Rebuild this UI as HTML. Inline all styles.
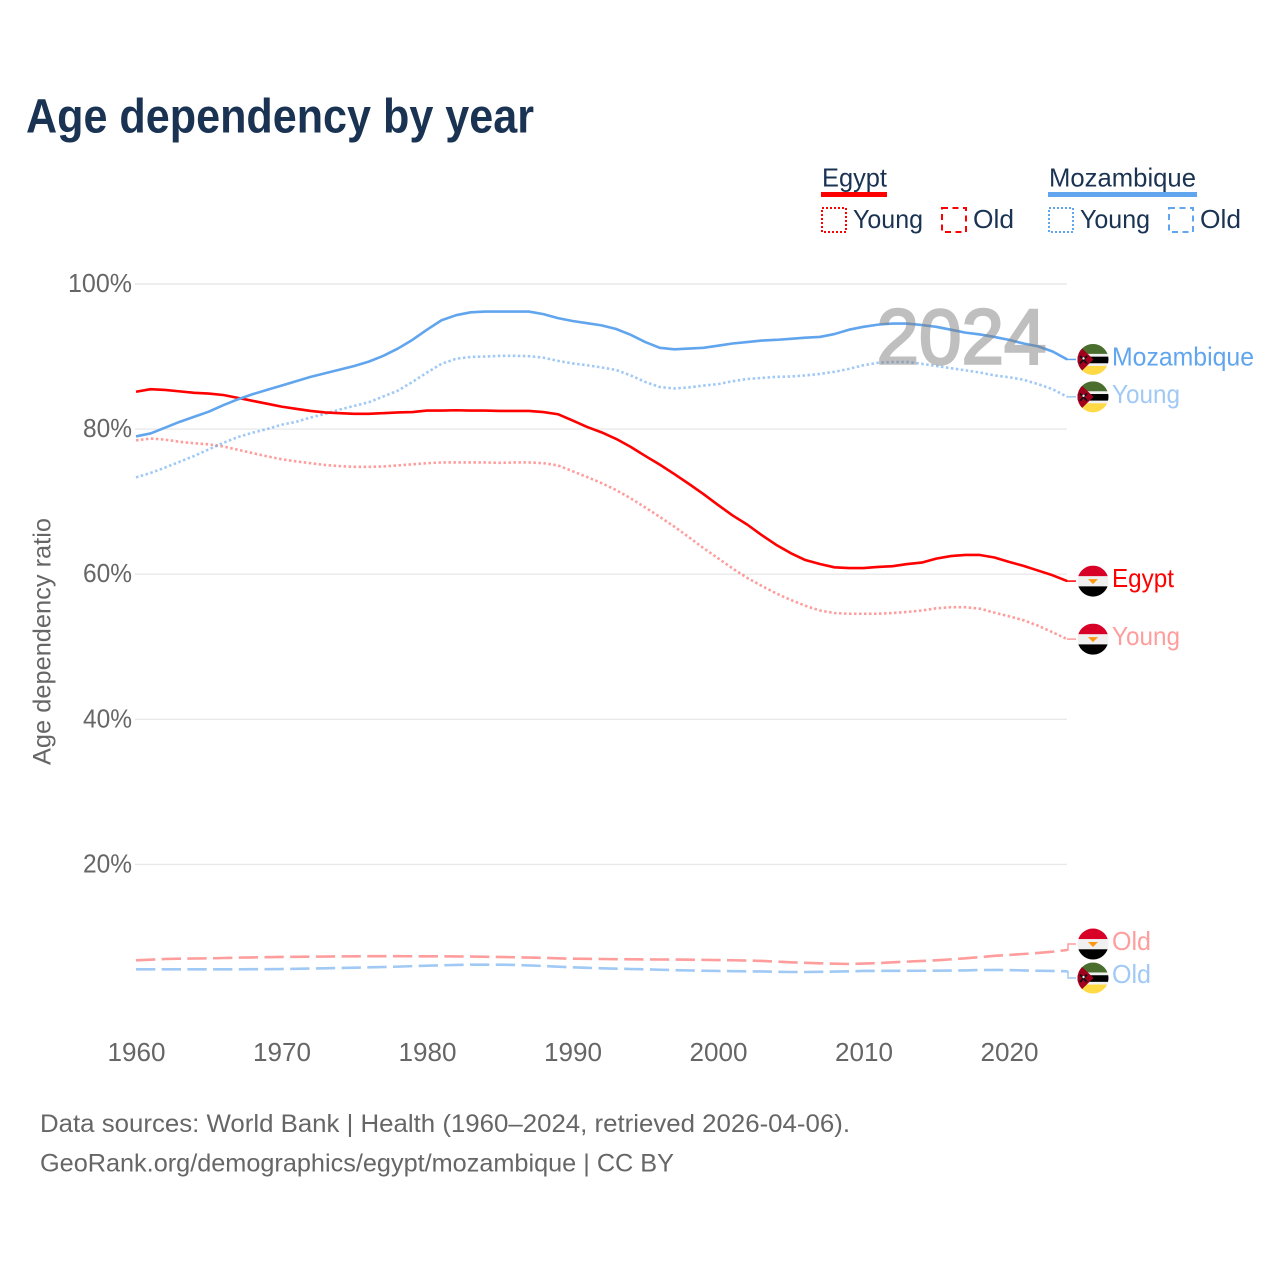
<!DOCTYPE html>
<html lang="en">
<head>
<meta charset="utf-8">
<title>Age dependency by year</title>
<style>
html,body{margin:0;padding:0;background:#fff;}
svg{display:block;}
text{font-family:"Liberation Sans",sans-serif;}
</style>
</head>
<body>
<svg id="chart" width="1280" height="1280" viewBox="0 0 1280 1280" xmlns="http://www.w3.org/2000/svg">
  <rect x="0" y="0" width="1280" height="1280" fill="#ffffff"/>
  <text x="26" y="132.5" font-size="48" font-weight="700" fill="#1a3352" textLength="508" lengthAdjust="spacingAndGlyphs">Age dependency by year</text>

  <g fill="#1a3352" font-size="26">
    <text x="822" y="186.5" textLength="65" lengthAdjust="spacingAndGlyphs">Egypt</text>
    <rect x="821" y="192" width="66" height="5" fill="#ff0000"/>
    <rect x="822" y="208" width="24" height="24" fill="none" stroke="#ff0000" stroke-width="2" stroke-dasharray="2 2"/>
    <text x="853" y="228" textLength="70" lengthAdjust="spacingAndGlyphs">Young</text>
    <rect x="942" y="208" width="24" height="24" fill="none" stroke="#ff0000" stroke-width="2" stroke-dasharray="6 4.5"/>
    <text x="973" y="228" textLength="41" lengthAdjust="spacingAndGlyphs">Old</text>
    <text x="1049" y="186.5" textLength="147" lengthAdjust="spacingAndGlyphs">Mozambique</text>
    <rect x="1048" y="192" width="149" height="5" fill="#60a5ee"/>
    <rect x="1049" y="208" width="24" height="24" fill="none" stroke="#60a5ee" stroke-width="2" stroke-dasharray="2 2"/>
    <text x="1080" y="228" textLength="70" lengthAdjust="spacingAndGlyphs">Young</text>
    <rect x="1169" y="208" width="24" height="24" fill="none" stroke="#60a5ee" stroke-width="2" stroke-dasharray="6 4.5"/>
    <text x="1200" y="228" textLength="41" lengthAdjust="spacingAndGlyphs">Old</text>
  </g>

  <text transform="translate(50.5,641.5) rotate(-90)" text-anchor="middle" font-size="25" fill="#666666" textLength="247" lengthAdjust="spacingAndGlyphs">Age dependency ratio</text>

  <g id="grid"></g>
  <g id="ylabels"></g>
  <g id="xlabels"></g>
  <g id="lines"></g>
  <g opacity="0.5">
    <text x="1046.5" y="363.5" text-anchor="end" font-size="78" fill="#808080" stroke="#808080" stroke-width="2.4" textLength="170" lengthAdjust="spacingAndGlyphs">2024</text>
  </g>
  <g id="labels"></g>

  <text x="40" y="1132" font-size="25" fill="#666666" textLength="810" lengthAdjust="spacingAndGlyphs">Data sources: World Bank | Health (1960–2024, retrieved 2026-04-06).</text>
  <text x="40" y="1171.5" font-size="25" fill="#666666" textLength="634" lengthAdjust="spacingAndGlyphs">GeoRank.org/demographics/egypt/mozambique | CC BY</text>
</svg>

<script>
const years = [1960,1961,1962,1963,1964,1965,1966,1967,1968,1969,1970,1971,1972,1973,1974,1975,1976,1977,1978,1979,1980,1981,1982,1983,1984,1985,1986,1987,1988,1989,1990,1991,1992,1993,1994,1995,1996,1997,1998,1999,2000,2001,2002,2003,2004,2005,2006,2007,2008,2009,2010,2011,2012,2013,2014,2015,2016,2017,2018,2019,2020,2021,2022,2023,2024];
const xTickYears = [1960,1970,1980,1990,2000,2010,2020];
const yTickValues = [20,40,60,80,100];

const egyptTotal = [85.15,85.5,85.4,85.2,85.0,84.9,84.7,84.3,83.9,83.5,83.1,82.8,82.5,82.3,82.2,82.1,82.1,82.2,82.3,82.35,82.55,82.55,82.6,82.55,82.55,82.5,82.5,82.5,82.35,82.05,81.2,80.3,79.55,78.65,77.55,76.3,75.1,73.8,72.45,71.05,69.55,68.1,66.85,65.4,64.05,62.9,61.95,61.4,60.95,60.85,60.85,61.0,61.1,61.4,61.6,62.15,62.5,62.65,62.65,62.3,61.7,61.15,60.5,59.85,59.05];
const egyptYoung = [78.45,78.7,78.55,78.25,78.05,77.9,77.6,77.15,76.7,76.25,75.85,75.55,75.3,75.05,74.9,74.8,74.8,74.85,75.0,75.15,75.3,75.4,75.4,75.4,75.4,75.35,75.4,75.4,75.3,75.0,74.2,73.4,72.55,71.6,70.45,69.2,67.9,66.55,65.1,63.6,62.2,60.8,59.5,58.4,57.35,56.45,55.65,55.0,54.65,54.55,54.55,54.55,54.65,54.8,55.0,55.3,55.45,55.45,55.25,54.7,54.2,53.65,52.9,52.0,51.05];
const egyptOld = [6.78,6.87,6.96,7.0,7.03,7.05,7.1,7.15,7.18,7.21,7.24,7.26,7.28,7.3,7.32,7.33,7.35,7.35,7.35,7.34,7.33,7.33,7.31,7.3,7.27,7.24,7.2,7.16,7.12,7.06,7.0,6.98,6.96,6.94,6.92,6.9,6.89,6.88,6.86,6.84,6.82,6.79,6.75,6.7,6.6,6.5,6.43,6.37,6.32,6.27,6.33,6.4,6.5,6.6,6.69,6.78,6.91,7.05,7.22,7.4,7.52,7.65,7.8,7.97,8.2];
const mozTotal = [79.0,79.4,80.2,81.0,81.7,82.4,83.3,84.1,84.8,85.4,86.0,86.6,87.2,87.7,88.2,88.7,89.3,90.1,91.1,92.3,93.7,95.0,95.7,96.1,96.2,96.2,96.2,96.2,95.85,95.3,94.9,94.6,94.3,93.8,93.0,92.0,91.2,91.0,91.1,91.2,91.5,91.8,92.0,92.2,92.3,92.45,92.6,92.7,93.1,93.7,94.1,94.4,94.55,94.55,94.35,94.1,93.7,93.3,93.05,92.7,92.3,91.8,91.4,90.7,89.6];
const mozYoung = [73.35,73.95,74.7,75.5,76.3,77.2,78.1,78.9,79.5,80.0,80.6,81.0,81.6,82.1,82.7,83.2,83.7,84.5,85.3,86.5,87.8,89.0,89.7,89.95,90.0,90.1,90.1,90.05,89.85,89.4,89.05,88.8,88.5,88.15,87.4,86.5,85.8,85.6,85.75,86.0,86.2,86.6,86.9,87.05,87.2,87.25,87.4,87.6,87.9,88.3,88.8,89.15,89.25,89.25,89.0,88.7,88.4,88.1,87.8,87.4,87.15,86.8,86.2,85.5,84.45];
const mozOld = [5.54,5.54,5.54,5.54,5.54,5.54,5.54,5.54,5.55,5.56,5.58,5.61,5.65,5.68,5.72,5.76,5.81,5.86,5.91,5.98,6.04,6.09,6.14,6.18,6.18,6.18,6.14,6.08,6.0,5.9,5.81,5.74,5.68,5.63,5.58,5.54,5.48,5.43,5.38,5.34,5.31,5.28,5.26,5.24,5.2,5.17,5.17,5.19,5.23,5.27,5.31,5.32,5.33,5.34,5.34,5.35,5.37,5.39,5.44,5.45,5.44,5.38,5.34,5.31,5.26];

const SVGNS = 'http://www.w3.org/2000/svg';
function xScale(year){ return 136 + (year - 1960) * 14.55; }
function yScale(v){ return 1009.5 - v * 7.255; }
function el(tag, parent, attrs){
  const n = document.createElementNS(SVGNS, tag);
  for (const k in attrs) n.setAttribute(k, attrs[k]);
  parent.appendChild(n);
  return n;
}

const gridG = document.getElementById('grid');
const yLabG = document.getElementById('ylabels');
yTickValues.forEach(function(v){
  const line = el('line', gridG, {x1:135, x2:1067, y1:yScale(v), y2:yScale(v), stroke:'#e9e9e9', 'stroke-width':1.4});
  
  
  const t = el('text', yLabG, {x:132, y:yScale(v) + 8, 'text-anchor':'end', 'font-size':25.5, fill:'#666666', textLength:(v === 100 ? 64 : 49), lengthAdjust:'spacingAndGlyphs'});
  
  
  t.textContent = v + '%';
});

const xLabG = document.getElementById('xlabels');
xTickYears.forEach(function(y){
  const t = el('text', xLabG, {x:xScale(y) + 0.5, y:1061, 'text-anchor':'middle', 'font-size':26, fill:'#666666', textLength:58, lengthAdjust:'spacingAndGlyphs'});
  
  
  t.textContent = y;
});

const linesG = document.getElementById('lines');
const labelsG = document.getElementById('labels');

function drawLine(name, values, color, opacity, dash){
  let d = '';
  values.forEach(function(v, i){ d += (i ? 'L' : 'M') + xScale(years[i]).toFixed(2) + ',' + yScale(v).toFixed(2); });
  const p = el('path', linesG, {d:d, fill:'none', stroke:color, 'stroke-opacity':opacity, 'stroke-width':2.6, 'stroke-linejoin':'round'});
  if (dash) p.setAttribute('stroke-dasharray', dash);
  
  
}

let clipCount = 0;
function drawEgyptFlag(g, cx, cy, r){
  const id = 'flagclip' + (clipCount++);
  const cp = el('clipPath', g, {id:id});
  el('circle', cp, {cx:cx, cy:cy, r:r});
  const f = el('g', g, {'clip-path':'url(#' + id + ')'});
  el('rect', f, {x:cx-r, y:cy-r, width:2*r, height:2*r, fill:'#f0f0f0'});
  el('rect', f, {x:cx-r, y:cy-r, width:2*r, height:r*0.68, fill:'#d80027'});
  el('rect', f, {x:cx-r, y:cy+r*0.34, width:2*r, height:r*0.68, fill:'#000000'});
  el('path', f, {d:'M'+(cx-5)+','+(cy-2)+'L'+(cx+5)+','+(cy-2)+'L'+(cx+2)+','+(cy+1)+'L'+cx+','+(cy+3)+'L'+(cx-2)+','+(cy+1)+'Z', fill:'#ff9811'});
}
function drawMozFlag(g, cx, cy, r){
  const id = 'flagclip' + (clipCount++);
  const cp = el('clipPath', g, {id:id});
  el('circle', cp, {cx:cx, cy:cy, r:r});
  const f = el('g', g, {'clip-path':'url(#' + id + ')'});
  el('rect', f, {x:cx-r, y:cy-r, width:2*r, height:2*r, fill:'#f0f0f0'});
  el('rect', f, {x:cx-r, y:cy-r, width:2*r, height:r*0.64, fill:'#496e2d'});
  el('rect', f, {x:cx-r, y:cy-2.8, width:2*r, height:6.6, fill:'#000000'});
  el('rect', f, {x:cx-r, y:cy+6.5, width:2*r, height:r, fill:'#ffda44'});
  el('path', f, {d:'M'+(cx-r)+','+(cy-r)+'L'+(cx+0.5)+','+cy+'L'+(cx-r)+','+(cy+r)+'Z', fill:'#a2001d'});
  el('path', f, {d:'M'+(cx-13)+','+(cy-3.5)+'L'+(cx-6)+','+(cy+4)+'M'+(cx-6)+','+(cy-3.5)+'L'+(cx-13)+','+(cy+4), stroke:'#111111', 'stroke-width':1.8, fill:'none'});
  el('circle', f, {cx:cx-9.5, cy:cy-1, r:1.2, fill:'#f0f0f0'});
}

function drawEndLabel(name, text, textW, values, shift, textDy, color, opacity, country){
  const lastY = yScale(values[values.length - 1]);
  const cy = lastY + shift;
  const lead = el('path', labelsG, {d:'M1067,' + lastY.toFixed(2) + 'H1068V' + cy.toFixed(2) + 'H1076', fill:'none', stroke:color, 'stroke-opacity':opacity, 'stroke-width':1.5});
  
  
  const g = el('g', labelsG, {});
  
  
  if (country === 'egypt') drawEgyptFlag(g, 1093, cy, 15.5);
  else drawMozFlag(g, 1093, cy, 15.5);
  const t = el('text', labelsG, {x:1112, y:cy + textDy, 'font-size':26, fill:color, 'fill-opacity':opacity, textLength:textW, lengthAdjust:'spacingAndGlyphs'});
  
  
  t.textContent = text;
}

const RED = '#ff0000';
const BLUE = '#60a5ee';
const DOTTED = '2.5 2.5';
const DASHED = '19.3 6.4';

drawLine('egypt-old', egyptOld, RED, 0.39, DASHED);
drawLine('mozambique-old', mozOld, BLUE, 0.6, DASHED);
drawLine('egypt-young', egyptYoung, RED, 0.39, DOTTED);
drawLine('mozambique-young', mozYoung, BLUE, 0.6, DOTTED);
drawLine('egypt-total', egyptTotal, RED, 1, null);
drawLine('mozambique-total', mozTotal, BLUE, 1, null);

drawEndLabel('mozambique-total', 'Mozambique', 142, mozTotal, 0, 6, BLUE, 1, 'moz');
drawEndLabel('mozambique-young', 'Young', 68, mozYoung, 0, 6, BLUE, 0.6, 'moz');
drawEndLabel('egypt-total', 'Egypt', 62, egyptTotal, 0, 6, RED, 1, 'egypt');
drawEndLabel('egypt-young', 'Young', 68, egyptYoung, 0, 6, RED, 0.39, 'egypt');
drawEndLabel('egypt-old', 'Old', 39, egyptOld, -6, 6, RED, 0.39, 'egypt');
drawEndLabel('mozambique-old', 'Old', 39, mozOld, 6.7, 5, BLUE, 0.6, 'moz');
</script>
</body>
</html>
